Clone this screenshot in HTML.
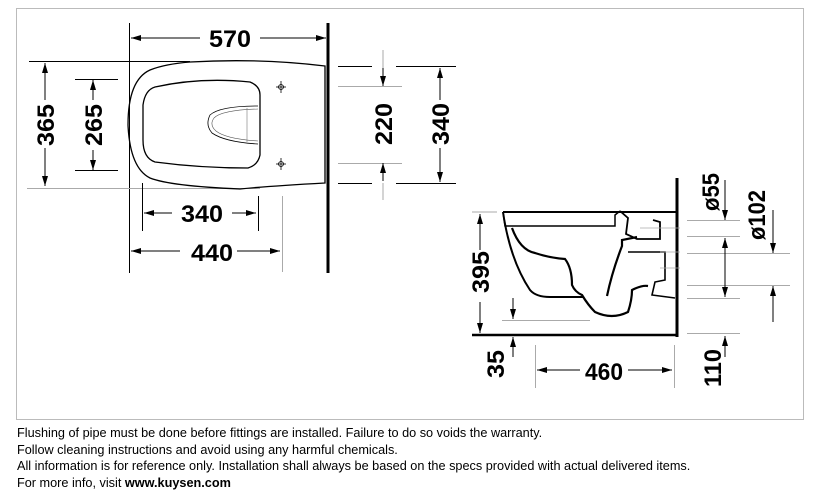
<!DOCTYPE html>
<html><head><meta charset="utf-8"><style>
body{margin:0;background:#fff;width:818px;height:500px;overflow:hidden;font-family:"Liberation Sans",sans-serif}
.note{position:absolute;left:17px;font-size:12.7px;color:#000;line-height:15px;white-space:nowrap}
</style></head><body>
<svg width="818" height="500" style="position:absolute;left:0;top:0" xmlns="http://www.w3.org/2000/svg">
<defs>
<marker id="a" viewBox="0 0 10 6" refX="10" refY="3" markerWidth="10" markerHeight="6" orient="auto-start-reverse" markerUnits="userSpaceOnUse"><path d="M0,0L10,3L0,6z" fill="#000"/></marker>
</defs>
<rect x="16.5" y="8.5" width="787" height="411" fill="none" stroke="#bbb"/>
<g font-family="'Liberation Sans Narrow','Liberation Sans',sans-serif" font-weight="bold" font-size="24" fill="#000" text-anchor="middle">
<line x1="328" y1="23" x2="328" y2="273" stroke="#000" stroke-width="3"/>
<line x1="129.5" y1="23" x2="129.5" y2="273" stroke="#000" stroke-width="1"/>
<line x1="131" y1="38" x2="200" y2="38" stroke="#000" marker-start="url(#a)"/>
<line x1="260" y1="38" x2="326" y2="38" stroke="#000" marker-end="url(#a)"/>
<text x="230" y="47" textLength="42" lengthAdjust="spacingAndGlyphs">570</text>
<line x1="29" y1="61.5" x2="190" y2="61.5" stroke="#000"/>
<line x1="27" y1="188.5" x2="260" y2="188.5" stroke="#aaa"/>
<line x1="45" y1="63" x2="45" y2="100" stroke="#000" marker-start="url(#a)"/>
<line x1="45" y1="148" x2="45" y2="186" stroke="#000" marker-end="url(#a)"/>
<text transform="translate(54,125) rotate(-90)" textLength="42" lengthAdjust="spacingAndGlyphs">365</text>
<line x1="75" y1="79.5" x2="118" y2="79.5" stroke="#000"/>
<line x1="75" y1="170.5" x2="118" y2="170.5" stroke="#000"/>
<line x1="93" y1="80" x2="93" y2="100" stroke="#000" marker-start="url(#a)"/>
<line x1="93" y1="150" x2="93" y2="170" stroke="#000" marker-end="url(#a)"/>
<text transform="translate(102,125) rotate(-90)" textLength="42" lengthAdjust="spacingAndGlyphs">265</text>
<path d="M190,62 Q260,58 325,66 L325,183 Q270,186 240,189 Q170,186 150,178 Q130,168 128,125 Q128,80 150,70 Q165,64 190,62Z" fill="none" stroke="#000" stroke-width="1.3"/>
<path d="M155,87 Q200,77 250,82 Q260,86 260,95 L260,155 Q258,165 248,168 Q200,168 155,162 Q143,158 143,140 L143,105 Q145,90 155,87Z" fill="none" stroke="#000" stroke-width="1.3"/>
<path d="M258,106 Q220,106 210,115 Q205,125 212,133 Q225,142 258,144" fill="none" stroke="#000" stroke-width="0.8"/>
<path d="M258,109 Q222,110 214,118 Q209,125 216,131 Q226,139 258,141" fill="none" stroke="#555" stroke-width="0.6"/>
<line x1="247" y1="108" x2="247" y2="142" stroke="#777" stroke-width="0.6"/>
<g stroke="#000" stroke-width="0.8" fill="none"><circle cx="281" cy="87" r="2.5"/><line x1="276" y1="87" x2="286" y2="87"/><line x1="281" y1="81" x2="281" y2="93"/>
<circle cx="281" cy="164" r="2.5"/><line x1="276" y1="164" x2="286" y2="164"/><line x1="281" y1="158" x2="281" y2="170"/></g>
<line x1="142.5" y1="183" x2="142.5" y2="231" stroke="#000"/>
<line x1="258.5" y1="196" x2="258.5" y2="231" stroke="#000"/>
<line x1="144" y1="213" x2="172" y2="213" stroke="#000" marker-start="url(#a)"/>
<line x1="232" y1="213" x2="256" y2="213" stroke="#000" marker-end="url(#a)"/>
<text x="202" y="222" textLength="42" lengthAdjust="spacingAndGlyphs">340</text>
<line x1="282.5" y1="196" x2="282.5" y2="272" stroke="#aaa"/>
<line x1="131" y1="251" x2="180" y2="251" stroke="#000" marker-start="url(#a)"/>
<line x1="237" y1="251" x2="280" y2="251" stroke="#000" marker-end="url(#a)"/>
<text x="212" y="261" textLength="42" lengthAdjust="spacingAndGlyphs">440</text>
<g stroke="#000"><line x1="338" y1="66.5" x2="372" y2="66.5"/><line x1="396" y1="66.5" x2="456" y2="66.5"/>
<line x1="338" y1="183.5" x2="372" y2="183.5"/><line x1="396" y1="183.5" x2="456" y2="183.5"/></g>
<g stroke="#aaa"><line x1="338" y1="86.5" x2="402" y2="86.5"/><line x1="338" y1="163.5" x2="402" y2="163.5"/>
<line x1="383" y1="50" x2="383" y2="70"/><line x1="383" y1="183" x2="383" y2="200"/></g>
<line x1="383" y1="68" x2="383" y2="86" stroke="#000" marker-end="url(#a)"/>
<line x1="383" y1="181" x2="383" y2="163" stroke="#000" marker-end="url(#a)"/>
<text transform="translate(392,124) rotate(-90)" textLength="42" lengthAdjust="spacingAndGlyphs">220</text>
<line x1="440" y1="68" x2="440" y2="100" stroke="#000" marker-start="url(#a)"/>
<line x1="440" y1="148" x2="440" y2="182" stroke="#000" marker-end="url(#a)"/>
<text transform="translate(449,124) rotate(-90)" textLength="42" lengthAdjust="spacingAndGlyphs">340</text>
<line x1="677" y1="178" x2="677" y2="337" stroke="#000" stroke-width="3"/>
<line x1="472" y1="335" x2="678" y2="335" stroke="#000" stroke-width="2.5"/>
<line x1="503" y1="212" x2="677" y2="212" stroke="#000" stroke-width="2"/>
<path d="M503,212 L505,226 L615,226 L615,215 L620,211" fill="none" stroke="#000" stroke-width="1.5"/>
<path d="M503,212 Q510,260 530,290 Q536,297 550,297 L583,297" fill="none" stroke="#000" stroke-width="2"/>
<path d="M512,228 Q520,250 535,253 Q550,258 565,259 Q572,268 572,285 Q575,292 582,295 Q588,305 595,312 Q612,320 628,312 Q632,300 632,290 Q642,285 648,286" fill="none" stroke="#000" stroke-width="2.2"/>
<path d="M607,296 Q612,272 622,246 L622,240 L637,237" fill="none" stroke="#000" stroke-width="2.2"/>
<path d="M620,211 L628,218 L626,234 L637,239 L660,239 L660,222 L653,220" fill="none" stroke="#000" stroke-width="1.8"/>
<path d="M628,252 L665,252 L665,280 L655,282 L652,295 L675,298" fill="none" stroke="#000" stroke-width="1.6"/>
<g stroke="#aaa" stroke-width="0.8"><line x1="640" y1="228" x2="680" y2="228"/><line x1="660" y1="252" x2="680" y2="252"/><line x1="660" y1="268" x2="680" y2="268"/></g>
<line x1="472" y1="212" x2="497" y2="212" stroke="#aaa"/>
<line x1="480" y1="214" x2="480" y2="250" stroke="#000" marker-start="url(#a)"/>
<line x1="480" y1="302" x2="480" y2="333" stroke="#000" marker-end="url(#a)"/>
<text transform="translate(489,272) rotate(-90)" textLength="42" lengthAdjust="spacingAndGlyphs">395</text>
<line x1="502" y1="320.5" x2="590" y2="320.5" stroke="#aaa"/>
<line x1="513" y1="298" x2="513" y2="319" stroke="#000" marker-end="url(#a)"/>
<line x1="513" y1="357" x2="513" y2="337" stroke="#000" marker-end="url(#a)"/>
<text transform="translate(504,364) rotate(-90)" textLength="28" lengthAdjust="spacingAndGlyphs">35</text>
<line x1="535.5" y1="345" x2="535.5" y2="388" stroke="#aaa"/>
<line x1="674.5" y1="345" x2="674.5" y2="388" stroke="#aaa"/>
<line x1="537" y1="370" x2="580" y2="370" stroke="#000" marker-start="url(#a)"/>
<line x1="628" y1="370" x2="672" y2="370" stroke="#000" marker-end="url(#a)"/>
<text x="604" y="380" textLength="38" lengthAdjust="spacingAndGlyphs">460</text>
<g stroke="#aaa"><line x1="687" y1="220.5" x2="740" y2="220.5"/><line x1="687" y1="236.5" x2="740" y2="236.5"/><line x1="687" y1="253.5" x2="790" y2="253.5"/>
<line x1="687" y1="285.5" x2="790" y2="285.5"/><line x1="687" y1="298.5" x2="740" y2="298.5"/><line x1="687" y1="333.5" x2="740" y2="333.5"/></g>
<line x1="725" y1="180" x2="725" y2="220" stroke="#000" marker-end="url(#a)"/>
<text transform="translate(719,192) rotate(-90)" textLength="38" lengthAdjust="spacingAndGlyphs">ø55</text>
<line x1="725" y1="238" x2="725" y2="297" stroke="#000" marker-start="url(#a)" marker-end="url(#a)"/>
<line x1="725" y1="357" x2="725" y2="336" stroke="#000" marker-end="url(#a)"/>
<text transform="translate(721,368) rotate(-90)" textLength="38" lengthAdjust="spacingAndGlyphs">110</text>
<line x1="773" y1="210" x2="773" y2="253" stroke="#000" marker-end="url(#a)"/>
<line x1="773" y1="322" x2="773" y2="286" stroke="#000" marker-end="url(#a)"/>
<text transform="translate(765,215) rotate(-90)" textLength="50" lengthAdjust="spacingAndGlyphs">ø102</text>
</g>
</svg>
<div class="note" style="top:426px">Flushing of pipe must be done before fittings are installed. Failure to do so voids the warranty.</div>
<div class="note" style="top:443px">Follow cleaning instructions and avoid using any harmful chemicals.</div>
<div class="note" style="top:459px">All information is for reference only. Installation shall always be based on the specs provided with actual delivered items.</div>
<div class="note" style="top:476px">For more info, visit <b>www.kuysen.com</b></div>
</body></html>
